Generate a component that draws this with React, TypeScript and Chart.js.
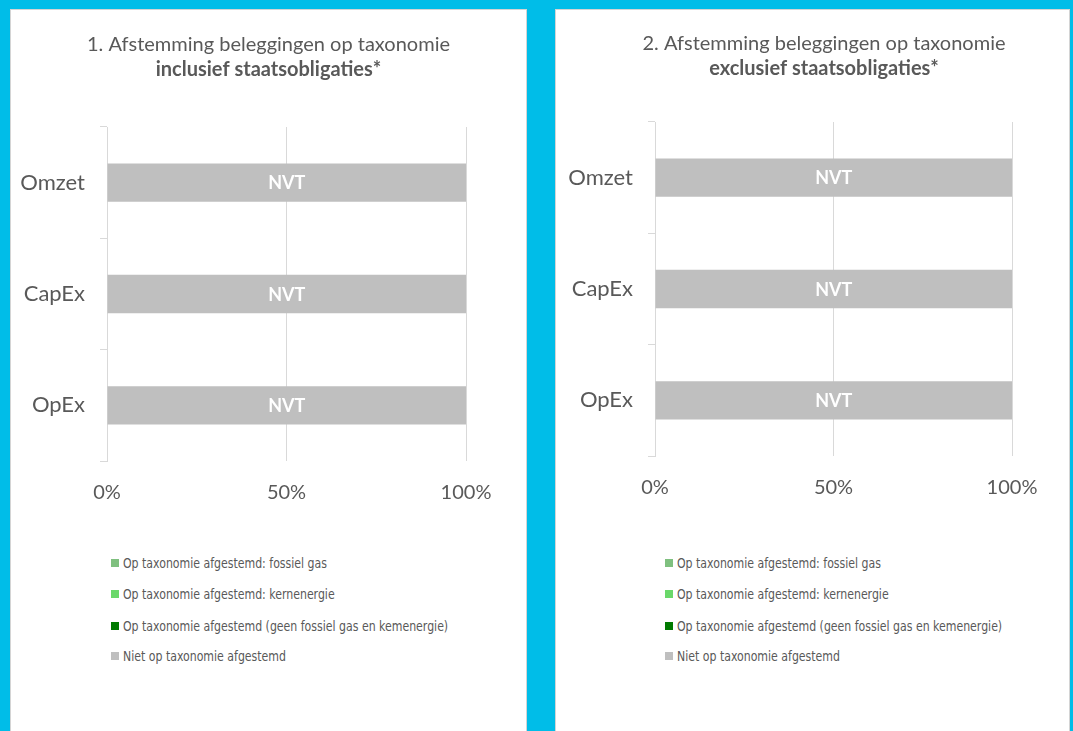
import React, { useEffect, useRef } from 'react';
import { Chart, registerables } from 'chart.js';

Chart.register(...registerables);

// ---------- data ----------
const CATEGORIES = ['Omzet', 'CapEx', 'OpEx'];
const SERIES_LABELS = [
  'Op taxonomie afgestemd: fossiel gas',
  'Op taxonomie afgestemd: kernenergie',
  'Op taxonomie afgestemd (geen fossiel gas en kemenergie)',
  'Niet op taxonomie afgestemd',
];
const SERIES_COLORS = ['#7FC07F', '#6AD86A', '#007A00', '#BFBFBF'];

const INCL_FOSSIL_GAS = [0, 0, 0];
const INCL_NUCLEAR = [0, 0, 0];
const INCL_ALIGNED = [0, 0, 0];
const INCL_NOT_ALIGNED = [100, 100, 100];

const EXCL_FOSSIL_GAS = [0, 0, 0];
const EXCL_NUCLEAR = [0, 0, 0];
const EXCL_ALIGNED = [0, 0, 0];
const EXCL_NOT_ALIGNED = [100, 100, 100];

const BAR_LABELS = ['NVT', 'NVT', 'NVT'];
const X_TICK_VALUES = [0, 50, 100];

const TITLE_1 = '1. Afstemming beleggingen op taxonomie';
const SUBTITLE_1 = 'inclusief staatsobligaties*';
const TITLE_2 = '2. Afstemming beleggingen op taxonomie';
const SUBTITLE_2 = 'exclusief staatsobligaties*';

// ---------- styles ----------
const FONT = 'Lato, "Open Sans", "Liberation Sans", sans-serif';
const LEGEND_FONT = '"Liberation Sans Narrow", "DejaVu Sans Condensed", "Liberation Sans", sans-serif';
const TEXT = '#595959';
const GRID = '#D9D9D9';
const BLUE = '#00BDE8';

type PanelCfg = {
  canvasLeft: number;
  canvasTop: number;
  canvasWidth: number;
  canvasHeight: number;
  yAxisWidth: number;
  rightGap: number;
  xAxisHeight: number;
  titlePadTop: number;
  subPadTop: number;
  subPadBottom: number;
  title: string;
  subtitle: string;
  series: number[][];
  legendLeft: number;
};

const nvtPlugin = {
  id: 'nvtLabels',
  afterDatasetsDraw(chart: any) {
    const ctx = chart.ctx;
    const meta = chart.getDatasetMeta(SERIES_LABELS.length - 1);
    ctx.save();
    ctx.fillStyle = '#FFFFFF';
    ctx.font = `bold 18px ${FONT}`;
    ctx.textAlign = 'center';
    ctx.textBaseline = 'middle';
    meta.data.forEach((bar: any, i: number) => {
      const cx = (bar.x + bar.base) / 2;
      ctx.fillText(BAR_LABELS[i], cx, bar.y + 1);
    });
    ctx.restore();
  },
};

function PanelChart({ cfg }: { cfg: PanelCfg }) {
  const ref = useRef<HTMLCanvasElement | null>(null);
  useEffect(() => {
    if (!ref.current) return;
    const chart = new Chart(ref.current, {
      type: 'bar',
      data: {
        labels: CATEGORIES,
        datasets: SERIES_LABELS.map((label, i) => ({
          label,
          data: cfg.series[i],
          backgroundColor: SERIES_COLORS[i],
          borderWidth: 0,
          categoryPercentage: 1,
          barPercentage: 0.345,
        })),
      },
      options: {
        indexAxis: 'y',
        responsive: false,
        animation: false,
        layout: { padding: 0 },
        plugins: {
          legend: { display: false },
          tooltip: { enabled: false },
          title: {
            display: true,
            text: cfg.title,
            color: TEXT,
            font: { family: FONT, size: 20, weight: 'normal', lineHeight: 1.2 },
            padding: { top: cfg.titlePadTop, bottom: 0 },
          },
          subtitle: {
            display: true,
            text: cfg.subtitle,
            color: TEXT,
            font: { family: FONT, size: 20, weight: 'bold', lineHeight: 1.2 },
            padding: { top: cfg.subPadTop, bottom: cfg.subPadBottom },
          },
        },
        scales: {
          x: {
            stacked: true,
            min: 0,
            max: 100,
            afterBuildTicks: (s: any) => {
              s.ticks = X_TICK_VALUES.map((v) => ({ value: v }));
            },
            ticks: {
              callback: (v: any) => v + '%',
              padding: 20,
              color: TEXT,
              font: { family: FONT, size: 20 },
              maxRotation: 0,
            },
            grid: { color: GRID, drawTicks: false, lineWidth: 1 },
            border: { display: false },
            afterFit: (s: any) => {
              s.height = cfg.xAxisHeight;
            },
          },
          y: {
            stacked: true,
            ticks: { padding: 15, color: TEXT, font: { family: FONT, size: 22 } },
            grid: { drawOnChartArea: false, drawTicks: true, tickLength: 7, color: GRID, offset: true },
            border: { display: true, color: GRID, width: 1 },
            afterFit: (s: any) => {
              s.width = cfg.yAxisWidth;
            },
          },
          yR: {
            type: 'linear',
            position: 'right',
            display: true,
            grid: { display: false },
            ticks: { display: false },
            border: { display: false },
            afterFit: (s: any) => {
              s.width = cfg.rightGap;
            },
          },
        },
      } as any,
      plugins: [nvtPlugin],
    });
    return () => chart.destroy();
  }, [cfg]);

  return (
    <canvas
      ref={ref}
      width={cfg.canvasWidth}
      height={cfg.canvasHeight}
      style={{
        position: 'absolute',
        left: cfg.canvasLeft,
        top: cfg.canvasTop,
        width: cfg.canvasWidth,
        height: cfg.canvasHeight,
        display: 'block',
      }}
    />
  );
}

const LEGEND_TOPS = [563, 594, 626, 656];

function Legend({ left }: { left: number }) {
  return (
    <>
      {SERIES_LABELS.map((label, i) => (
        <div
          key={label}
          style={{
            position: 'absolute',
            left,
            top: LEGEND_TOPS[i] - 10,
            height: 20,
            display: 'flex',
            alignItems: 'center',
            fontFamily: LEGEND_FONT,
            fontSize: 14,
            color: TEXT,
            whiteSpace: 'nowrap',
          }}
        >
          <span
            style={{
              display: 'inline-block',
              width: 8,
              height: 8,
              background: SERIES_COLORS[i],
              marginRight: 4,
            }}
          />
          <span style={{ display: 'inline-block', transform: 'scaleX(0.87)', transformOrigin: 'left center' }}>
            {label}
          </span>
        </div>
      ))}
    </>
  );
}

const LEFT_CFG: PanelCfg = {
  canvasLeft: 11,
  canvasTop: 10,
  canvasWidth: 515,
  canvasHeight: 520,
  yAxisWidth: 96,
  rightGap: 60,
  xAxisHeight: 69,
  titlePadTop: 23,
  subPadTop: 1,
  subPadBottom: 45,
  title: TITLE_1,
  subtitle: SUBTITLE_1,
  series: [INCL_FOSSIL_GAS, INCL_NUCLEAR, INCL_ALIGNED, INCL_NOT_ALIGNED],
  legendLeft: 111,
};

const RIGHT_CFG: PanelCfg = {
  canvasLeft: 556,
  canvasTop: 10,
  canvasWidth: 536,
  canvasHeight: 520,
  yAxisWidth: 99,
  rightGap: 80,
  xAxisHeight: 74,
  titlePadTop: 22,
  subPadTop: 1,
  subPadBottom: 41,
  title: TITLE_2,
  subtitle: SUBTITLE_2,
  series: [EXCL_FOSSIL_GAS, EXCL_NUCLEAR, EXCL_ALIGNED, EXCL_NOT_ALIGNED],
  legendLeft: 665,
};

export default function App() {
  return (
    <div
      style={{
        position: 'fixed',
        left: 0,
        top: 0,
        width: 1073,
        height: 731,
        overflow: 'hidden',
        background: BLUE,
      }}
    >
      <div
        style={{
          position: 'absolute',
          left: 10,
          top: 9,
          width: 515,
          height: 760,
          background: '#FFFFFF',
          border: '1px solid #D4D4D4',
        }}
      />
      <div
        style={{
          position: 'absolute',
          left: 555,
          top: 9,
          width: 513,
          height: 760,
          background: '#FFFFFF',
          border: '1px solid #D4D4D4',
        }}
      />
      <PanelChart cfg={LEFT_CFG} />
      <PanelChart cfg={RIGHT_CFG} />
      <Legend left={LEFT_CFG.legendLeft} />
      <Legend left={RIGHT_CFG.legendLeft} />
    </div>
  );
}
